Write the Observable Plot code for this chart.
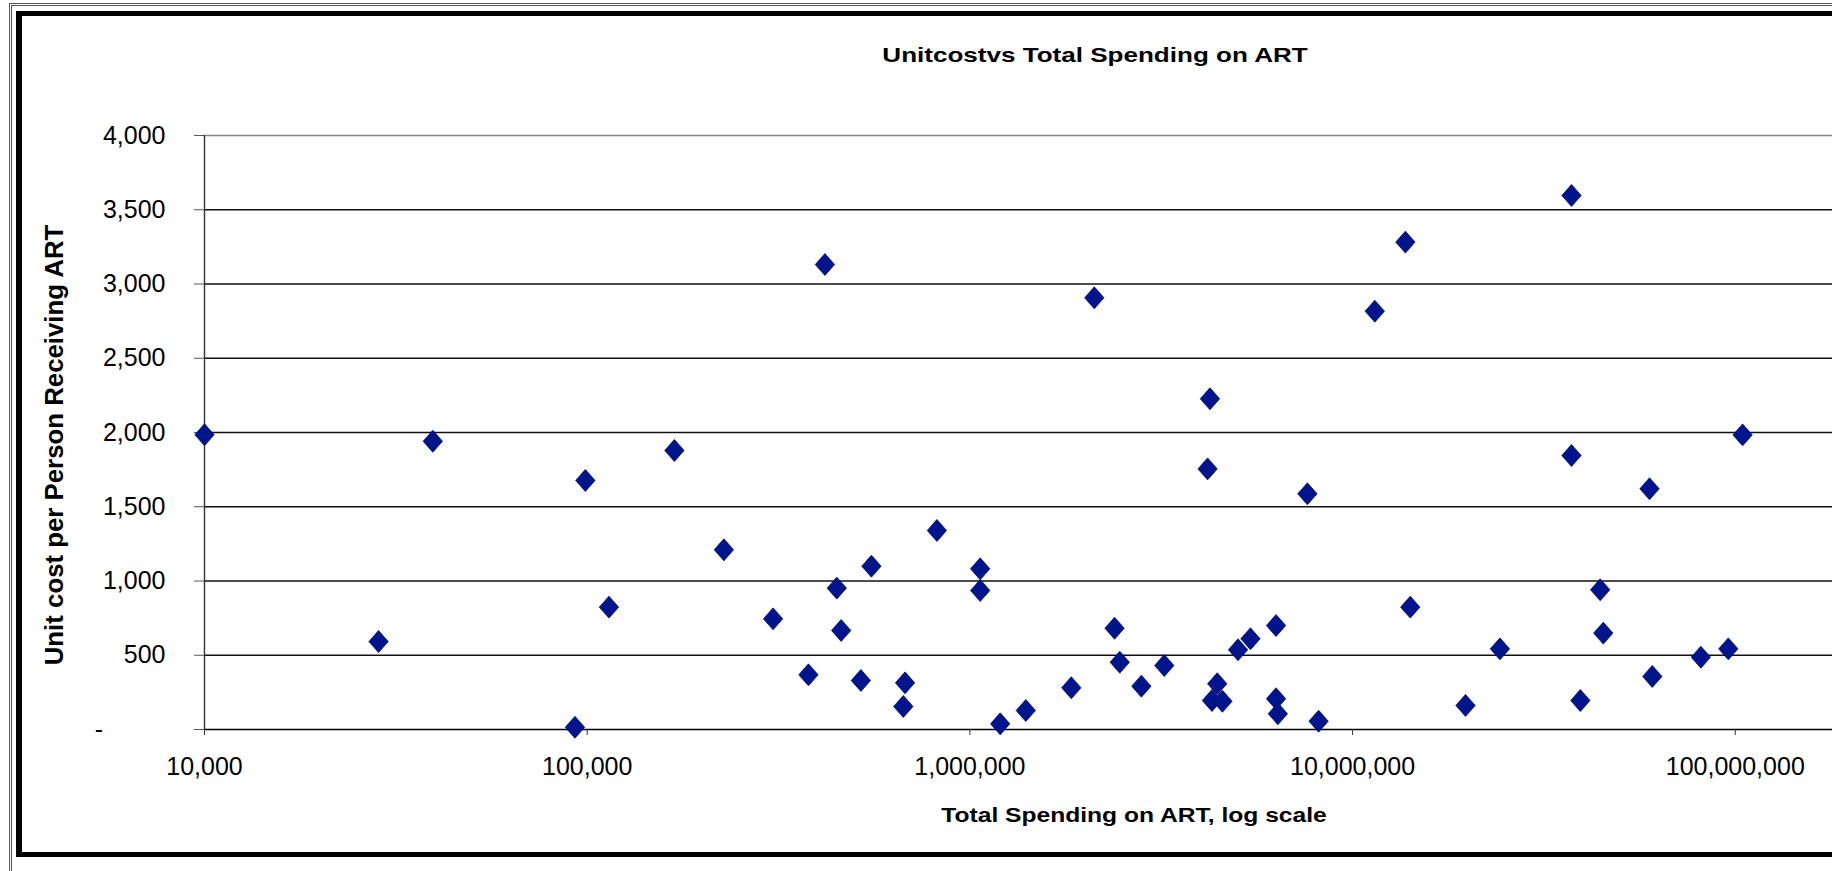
<!DOCTYPE html>
<html>
<head>
<meta charset="utf-8">
<script src="https://cdn.jsdelivr.net/npm/d3@7"></script>
<script src="https://cdn.jsdelivr.net/npm/@observablehq/plot@0.6"></script>
<style>
  html, body { margin: 0; padding: 0; background: #fff; }
  #wrap { position: relative; width: 1832px; height: 871px; overflow: hidden; background: #fff;
          font-family: "Liberation Sans", Arial, sans-serif; }
  #chart { position: absolute; left: 0; top: 0; }
  .txt { position: absolute; white-space: nowrap; font-weight: bold; color: #000; line-height: 1.15; }
  #title { left: 1095px; top: 55px; font-size: 21px; transform: translate(-50%, -50%) scaleX(1.24); }
  #xtitle { left: 1134px; top: 815px; font-size: 20px; transform: translate(-50%, -50%) scaleX(1.23); }
  #ytitle { left: 55px; top: 445px; font-size: 25.8px; transform: translate(-50%, -50%) rotate(-90deg); }
  #thin { position: absolute; left: 9px; top: 3px; width: 1900px; height: 900px;
          border-left: 3px double #555; border-top: 3px double #555; pointer-events: none; }
  #thick { position: absolute; left: 16px; top: 11px; width: 1900px; height: 836px;
           border-left: 6px solid #000; border-top: 5px solid #000; border-bottom: 5px solid #000; pointer-events: none; }
</style>
</head>
<body>
<div id="wrap">
  <div id="chart"></div>
  <div id="title" class="txt">Unitcostvs Total Spending on ART</div>
  <div id="ytitle" class="txt">Unit cost per Person Receiving ART</div>
  <div id="xtitle" class="txt">Total Spending on ART, log scale</div>
  <div id="thin"></div>
  <div id="thick"></div>
</div>
<script>
// Total spending on ART (x, log scale)
const spending = [
  10000, 28500, 39500, 92900, 98900, 114000, 169000, 227600, 306000, 378600,
  418000, 449000, 461000, 519000, 553000, 670000, 677000, 820000, 1064000, 1064000,
  1200000, 1400000, 1841000, 2114000, 2388000, 2464000, 2806000, 3221000, 4180000, 4240000,
  4430000, 4290000, 4570000, 5020000, 5410000, 6310000, 6310000, 6380000, 7620000, 8150000,
  11430000, 13740000, 14150000, 19730000, 24270000, 37330000, 37330000, 39370000, 44360000, 45200000,
  59700000, 60700000, 81300000, 95900000, 104500000
];
// Unit cost per person receiving ART (y)
const unitCost = [
  1985, 592, 1941, 15, 1677, 824, 1879, 1210, 745, 368,
  3131, 952, 667, 330, 1100, 155, 314, 1340, 1082, 936,
  38, 128, 281, 2907, 682, 453, 292, 431, 1755, 2227,
  308, 195, 190, 537, 611, 700, 207, 106, 1587, 56,
  2817, 3282, 824, 162, 543, 3596, 1845, 195, 941, 649,
  1621, 357, 487, 543, 1984
];
const xTicks = [10000, 100000, 1000000, 10000000, 100000000];
const yTicks = [0, 500, 1000, 1500, 2000, 2500, 3000, 3500, 4000];
const xDomain = [10000, 179500000];
const yDomain = [0, 4000];

const data = spending.map((s, i) => ({spending: s, cost: unitCost[i]}));

// Excel-like diamond marker (slightly taller than wide)
const diamond = {
  draw(context, size) {
    const h = Math.sqrt(size) * 0.62;
    const w = h * 0.88;
    context.moveTo(0, -h);
    context.lineTo(w, 0);
    context.lineTo(0, h);
    context.lineTo(-w, 0);
    context.closePath();
  }
};

const fmtY = d => d === 0 ? "-" + "\u00a0".repeat(9) : d3.format(",")(d);

const chart = Plot.plot({
  width: 1832,
  height: 871,
  marginLeft: 204,
  marginRight: 0,
  marginTop: 135,
  marginBottom: 142,
  style: {fontFamily: "Liberation Sans, Arial, sans-serif", fontSize: "25px", color: "#000", background: "transparent"},
  x: {type: "log", domain: xDomain, axis: null},
  y: {domain: yDomain, axis: null},
  marks: [
    Plot.ruleY(yTicks.filter(d => d > 0), {stroke: d => d === 4000 ? "#888" : "#111", strokeWidth: 1.6}),
    Plot.ruleY([0], {stroke: "#000", strokeWidth: 1.6}),
    Plot.ruleX([xDomain[0]], {y1: yDomain[0], y2: yDomain[1], stroke: "#333", strokeWidth: 1.4}),
    Plot.axisY({ticks: yTicks, tickSize: 10, tickPadding: 29, tickFormat: fmtY, label: null, stroke: "#555", fill: "#000"}),
    Plot.axisX({ticks: xTicks, tickSize: 6, tickPadding: 22, tickFormat: d3.format(","), label: null, stroke: "#333", fill: "#000"}),
    Plot.dot(data, {x: "spending", y: "cost", symbol: diamond, r: 10, fill: "#00148c", stroke: "#000a70", strokeWidth: 0.8})
  ]
});
document.getElementById("chart").appendChild(chart);
</script>
</body>
</html>
